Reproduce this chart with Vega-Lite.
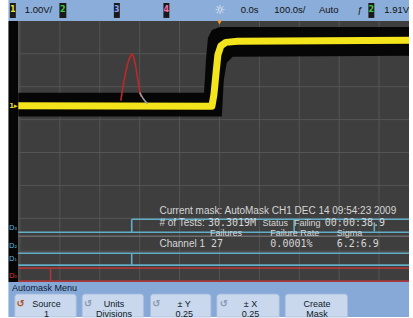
{
  "$schema": "https://vega.github.io/schema/vega-lite/v6.json",
  "width": 413,
  "height": 318,
  "autosize": {"type": "fit", "contains": "padding"},
  "padding": 0,
  "background": "#ffffff",
  "config": {"view": {"stroke": null}},
  "datasets": {
    "panels": [
      {"part": "plot", "x": -5.041, "x2": 4.75, "y": 4.0, "y2": -3.939},
      {"part": "strip", "x": -5.289, "x2": -5.041, "y": 4.0, "y2": -3.939},
      {"part": "top", "x": -5.289, "x2": 4.75, "y": 4.636, "y2": 4.0},
      {"part": "menu", "x": -5.289, "x2": 4.75, "y": -3.939, "y2": -5}
    ],
    "grid": [
      {"x": -5, "x2": -5, "y": 4, "y2": -3.939},
      {"x": -4, "x2": -4, "y": 4, "y2": -3.939},
      {"x": -3, "x2": -3, "y": 4, "y2": -3.939},
      {"x": -2, "x2": -2, "y": 4, "y2": -3.939},
      {"x": -1, "x2": -1, "y": 4, "y2": -3.939},
      {"x": 0, "x2": 0, "y": 4, "y2": -3.939},
      {"x": 1, "x2": 1, "y": 4, "y2": -3.939},
      {"x": 2, "x2": 2, "y": 4, "y2": -3.939},
      {"x": 3, "x2": 3, "y": 4, "y2": -3.939},
      {"x": 4, "x2": 4, "y": 4, "y2": -3.939},
      {"x": -5.041, "x2": 4.75, "y": 3, "y2": 3},
      {"x": -5.041, "x2": 4.75, "y": 2, "y2": 2},
      {"x": -5.041, "x2": 4.75, "y": 1, "y2": 1},
      {"x": -5.041, "x2": 4.75, "y": 0, "y2": 0},
      {"x": -5.041, "x2": 4.75, "y": -1, "y2": -1},
      {"x": -5.041, "x2": 4.75, "y": -2, "y2": -2},
      {"x": -5.041, "x2": 4.75, "y": -3, "y2": -3}
    ],
    "mask": [
      {"x": -5.041, "y": 1.818, "y2": 1.091},
      {"x": -0.387, "y": 1.818, "y2": 1.091},
      {"x": -0.338, "y": 2.818, "y2": 1.091},
      {"x": -0.288, "y": 3.485, "y2": 1.091},
      {"x": -0.189, "y": 3.727, "y2": 1.091},
      {"x": 0.010, "y": 3.818, "y2": 1.091},
      {"x": 0.059, "y": 3.818, "y2": 1.091},
      {"x": 0.109, "y": 3.818, "y2": 2.212},
      {"x": 0.183, "y": 3.818, "y2": 2.727},
      {"x": 0.332, "y": 3.818, "y2": 2.909},
      {"x": 4.75, "y": 3.818, "y2": 2.939}
    ],
    "trace": [
      {"x": -5.041, "y": 1.424},
      {"x": -0.189, "y": 1.409},
      {"x": -0.139, "y": 1.758},
      {"x": -0.090, "y": 2.364},
      {"x": -0.040, "y": 2.970},
      {"x": 0.035, "y": 3.242},
      {"x": 0.159, "y": 3.348},
      {"x": 0.456, "y": 3.379},
      {"x": 4.75, "y": 3.409}
    ],
    "glitch": [
      {"s": "fail", "x": -2.472, "y": 1.576},
      {"s": "fail", "x": -2.423, "y": 1.970},
      {"s": "fail", "x": -2.348, "y": 2.455},
      {"s": "fail", "x": -2.274, "y": 2.818},
      {"s": "fail", "x": -2.199, "y": 3.000},
      {"s": "fail", "x": -2.150, "y": 2.909},
      {"s": "fail", "x": -2.100, "y": 2.636},
      {"s": "fail", "x": -2.050, "y": 2.242},
      {"s": "fail", "x": -2.001, "y": 1.879},
      {"s": "fail", "x": -1.963, "y": 1.697},
      {"s": "tail", "x": -2.001, "y": 1.818},
      {"s": "tail", "x": -1.926, "y": 1.667},
      {"s": "tail", "x": -1.852, "y": 1.545},
      {"s": "tail", "x": -1.802, "y": 1.485}
    ],
    "digital": [
      {"ch": "sep", "x": -5.041, "x2": 4.75, "y": -2.545, "y2": -2.545},
      {"ch": "D", "x": -5.041, "x2": 4.75, "y": -2.424, "y2": -2.424},
      {"ch": "D", "x": -2.199, "x2": 4.75, "y": -2.030, "y2": -2.030},
      {"ch": "D", "x": -2.199, "x2": -2.199, "y": -2.030, "y2": -2.424},
      {"ch": "D", "x": 1.871, "x2": 1.871, "y": -2.030, "y2": -2.424},
      {"ch": "D", "x": 3.881, "x2": 3.881, "y": -2.121, "y2": -2.394},
      {"ch": "D", "x": -5.041, "x2": 4.75, "y": -3.061, "y2": -3.061},
      {"ch": "D", "x": -5.041, "x2": 4.75, "y": -3.424, "y2": -3.424},
      {"ch": "D", "x": -2.199, "x2": -2.199, "y": -3.061, "y2": -3.424},
      {"ch": "D0", "x": -5.041, "x2": 4.75, "y": -3.515, "y2": -3.515},
      {"ch": "D0", "x": -4.234, "x2": -4.234, "y": -3.515, "y2": -3.939},
      {"ch": "D0", "x": -5.041, "x2": 4.75, "y": -3.909, "y2": -3.909}
    ],
    "chanlabels": [
      {"ch": "D", "x": -5.277, "y": -2.288, "t": "D₃"},
      {"ch": "D", "x": -5.277, "y": -2.833, "t": "D₂"},
      {"ch": "D", "x": -5.277, "y": -3.227, "t": "D₁"},
      {"ch": "D0", "x": -5.277, "y": -3.758, "t": "D₀"}
    ],
    "ground": [{"x": -5.165, "y": 1.424, "t": "1▸"}],
    "trigger": [{"x": 0, "y": 3.955}],
    "boxes": [
      {"x": -5.252, "x2": -5.103, "y": 4.545, "y2": 4.091},
      {"x": -4.011, "x2": -3.837, "y": 4.545, "y2": 4.091},
      {"x": -2.646, "x2": -2.497, "y": 4.545, "y2": 4.091},
      {"x": -1.405, "x2": -1.256, "y": 4.545, "y2": 4.091},
      {"x": 3.732, "x2": 3.881, "y": 4.545, "y2": 4.091}
    ],
    "boxdigits": [
      {"c": "1", "x": -5.177, "y": 4.318, "t": "1"},
      {"c": "2", "x": -3.924, "y": 4.318, "t": "2"},
      {"c": "3", "x": -2.571, "y": 4.318, "t": "3"},
      {"c": "4", "x": -1.330, "y": 4.318, "t": "4"},
      {"c": "2", "x": 3.807, "y": 4.318, "t": "2"}
    ],
    "header": [
      {"x": -4.880, "y": 4.333, "t": "1.00V/"},
      {"x": 0.531, "y": 4.333, "t": "0.0s"},
      {"x": 1.375, "y": 4.333, "t": "100.0s/"},
      {"x": 2.4915, "y": 4.333, "t": "Auto"},
      {"x": 3.459, "y": 4.333, "t": "ƒ"},
      {"x": 4.1295, "y": 4.333, "t": "1.91V"}
    ],
    "sun": [{"x": 0.010, "y": 4.333, "t": "☼"}],
    "panelsans": [
      {"x": -1.504, "y": -1.788, "t": "Current mask: AutoMask CH1 DEC 14 09:54:23 2009"},
      {"x": -1.504, "y": -2.152, "t": "# of Tests:"},
      {"x": -1.504, "y": -2.788, "t": "Channel 1"}
    ],
    "panelstatus": [
      {"x": 1.077, "y": -2.152, "t": "Status"},
      {"x": 1.870, "y": -2.152, "t": "Failing"}
    ],
    "panelhdr": [
      {"x": -0.239, "y": -2.455, "t": "Failures"},
      {"x": 1.275, "y": -2.455, "t": "Failure Rate"},
      {"x": 2.938, "y": -2.455, "t": "Sigma"}
    ],
    "panelmono": [
      {"x": -0.288, "y": -2.152, "t": "30.3019M"},
      {"x": 2.640, "y": -2.152, "t": "00:00:38.9"},
      {"x": -0.214, "y": -2.788, "t": "27"},
      {"x": 1.275, "y": -2.788, "t": "0.0001%"},
      {"x": 2.938, "y": -2.788, "t": "6.2:6.9"}
    ],
    "menutitle": [{"x": -5.202, "y": -4.121, "t": "Automask Menu"}],
    "buttons": [
      {"x": -5.128, "x2": -3.589, "y": -4.303, "y2": -5},
      {"x": -3.440, "x2": -1.901, "y": -4.303, "y2": -5},
      {"x": -1.728, "x2": -0.214, "y": -4.303, "y2": -5},
      {"x": -0.065, "x2": 1.499, "y": -4.303, "y2": -5},
      {"x": 1.648, "x2": 3.211, "y": -4.303, "y2": -5}
    ],
    "buttonlabels": [
      {"x": -4.334, "y": -4.606, "t": "Source"},
      {"x": -4.334, "y": -4.924, "t": "1"},
      {"x": -2.646, "y": -4.606, "t": "Units"},
      {"x": -2.646, "y": -4.924, "t": "Divisions"},
      {"x": -0.884, "y": -4.606, "t": "± Y"},
      {"x": -0.884, "y": -4.924, "t": "0.25"},
      {"x": 0.779, "y": -4.606, "t": "± X"},
      {"x": 0.779, "y": -4.924, "t": "0.25"},
      {"x": 2.442, "y": -4.606, "t": "Create"},
      {"x": 2.442, "y": -4.924, "t": "Mask"}
    ],
    "icons": [
      {"k": "on", "x": -4.979, "y": -4.606, "t": "↺"},
      {"k": "off", "x": -3.291, "y": -4.606, "t": "↺"},
      {"k": "off", "x": -1.579, "y": -4.606, "t": "↺"},
      {"k": "off", "x": 0.109, "y": -4.606, "t": "↺"}
    ]
  },
  "encoding": {
    "x": {"field": "x", "type": "quantitative", "scale": {"domain": [-5.5, 4.75], "nice": false, "zero": false}, "axis": null},
    "y": {"field": "y", "type": "quantitative", "scale": {"domain": [-5, 4.636], "nice": false, "zero": false}, "axis": null}
  },
  "resolve": {"scale": {"color": "independent"}},
  "layer": [
    {
      "data": {"name": "panels"},
      "mark": {"type": "rect"},
      "encoding": {
        "x2": {"field": "x2"}, "y2": {"field": "y2"},
        "color": {"field": "part", "type": "nominal", "legend": null,
          "scale": {"domain": ["plot", "strip", "top", "menu"], "range": ["#3e3e3e", "#060606", "#8badd9", "#86a9d8"]}}
      }
    },
    {
      "data": {"name": "grid"},
      "mark": {"type": "rule", "color": "#555555", "strokeWidth": 1},
      "encoding": {"x2": {"field": "x2"}, "y2": {"field": "y2"}}
    },
    {
      "data": {"name": "mask"},
      "mark": {"type": "area", "color": "#060606", "interpolate": "linear"},
      "encoding": {"y2": {"field": "y2"}}
    },
    {
      "data": {"name": "digital"},
      "mark": {"type": "rule", "strokeWidth": 1.6},
      "encoding": {
        "x2": {"field": "x2"}, "y2": {"field": "y2"},
        "color": {"field": "ch", "type": "nominal", "legend": null,
          "scale": {"domain": ["D", "sep", "D0"], "range": ["#62aec6", "#6c6c6c", "#a8383a"]}}
      }
    },
    {
      "data": {"name": "trace"},
      "mark": {"type": "line", "color": "#f4e41c", "strokeWidth": 7, "strokeCap": "butt", "strokeJoin": "round"},
      "encoding": {}
    },
    {
      "data": {"name": "glitch"},
      "mark": {"type": "line", "strokeWidth": 1.6, "strokeJoin": "round"},
      "encoding": {
        "color": {"field": "s", "type": "nominal", "legend": null,
          "scale": {"domain": ["fail", "tail"], "range": ["#c02828", "#9a9a9a"]}}
      }
    },
    {
      "data": {"name": "trigger"},
      "mark": {"type": "point", "shape": "triangle-down", "filled": true, "color": "#f39a2a", "size": 22, "opacity": 1}
    },
    {
      "data": {"name": "buttons"},
      "mark": {"type": "rect", "color": "#c9d8ed", "stroke": "#a8bddb", "strokeWidth": 0.8, "cornerRadiusTopLeft": 3, "cornerRadiusTopRight": 3},
      "encoding": {"x2": {"field": "x2"}, "y2": {"field": "y2"}}
    },
    {
      "data": {"name": "boxes"},
      "mark": {"type": "rect", "color": "#1a1a1a"},
      "encoding": {"x2": {"field": "x2"}, "y2": {"field": "y2"}}
    },
    {
      "data": {"name": "boxdigits"},
      "mark": {"type": "text", "font": "DejaVu Sans", "fontSize": 8, "fontWeight": "bold", "align": "center", "baseline": "middle"},
      "encoding": {
        "text": {"field": "t"},
        "color": {"field": "c", "type": "nominal", "legend": null,
          "scale": {"domain": ["1", "2", "3", "4"], "range": ["#e8e030", "#3cc83c", "#8a9cff", "#ff6aa8"]}}
      }
    },
    {
      "data": {"name": "header"},
      "mark": {"type": "text", "font": "Liberation Sans", "fontSize": 9.5, "align": "left", "baseline": "middle", "color": "#111111", "clip": true},
      "encoding": {"text": {"field": "t"}}
    },
    {
      "data": {"name": "sun"},
      "mark": {"type": "text", "font": "DejaVu Sans", "fontSize": 12, "align": "center", "baseline": "middle", "color": "#f4f4f4"},
      "encoding": {"text": {"field": "t"}}
    },
    {
      "data": {"name": "panelsans"},
      "mark": {"type": "text", "font": "Liberation Sans", "fontSize": 10, "align": "left", "baseline": "middle", "color": "#d6d6d6"},
      "encoding": {"text": {"field": "t"}}
    },
    {
      "data": {"name": "panelstatus"},
      "mark": {"type": "text", "font": "Liberation Sans", "fontSize": 9, "align": "left", "baseline": "middle", "color": "#d6d6d6"},
      "encoding": {"text": {"field": "t"}}
    },
    {
      "data": {"name": "panelhdr"},
      "mark": {"type": "text", "font": "Liberation Sans", "fontSize": 9, "align": "left", "baseline": "middle", "color": "#d6d6d6"},
      "encoding": {"text": {"field": "t"}}
    },
    {
      "data": {"name": "panelmono"},
      "mark": {"type": "text", "font": "DejaVu Sans Mono", "fontSize": 10, "align": "left", "baseline": "middle", "color": "#d6d6d6"},
      "encoding": {"text": {"field": "t"}}
    },
    {
      "data": {"name": "chanlabels"},
      "mark": {"type": "text", "font": "DejaVu Sans", "fontSize": 7, "align": "left", "baseline": "middle"},
      "encoding": {
        "text": {"field": "t"},
        "color": {"field": "ch", "type": "nominal", "legend": null,
          "scale": {"domain": ["D", "D0"], "range": ["#5ab4d8", "#d03838"]}}
      }
    },
    {
      "data": {"name": "ground"},
      "mark": {"type": "text", "font": "DejaVu Sans", "fontSize": 7, "fontWeight": "bold", "align": "center", "baseline": "middle", "color": "#e8dc20"},
      "encoding": {"text": {"field": "t"}}
    },
    {
      "data": {"name": "menutitle"},
      "mark": {"type": "text", "font": "Liberation Sans", "fontSize": 9, "align": "left", "baseline": "middle", "color": "#0c1830"},
      "encoding": {"text": {"field": "t"}}
    },
    {
      "data": {"name": "buttonlabels"},
      "mark": {"type": "text", "font": "Liberation Sans", "fontSize": 9, "align": "center", "baseline": "middle", "color": "#101828", "clip": true},
      "encoding": {"text": {"field": "t"}}
    },
    {
      "data": {"name": "icons"},
      "mark": {"type": "text", "font": "DejaVu Sans", "fontSize": 10, "fontWeight": "bold", "align": "center", "baseline": "middle"},
      "encoding": {
        "text": {"field": "t"},
        "color": {"field": "k", "type": "nominal", "legend": null,
          "scale": {"domain": ["on", "off"], "range": ["#b0561c", "#8a9ab5"]}}
      }
    }
  ]
}
